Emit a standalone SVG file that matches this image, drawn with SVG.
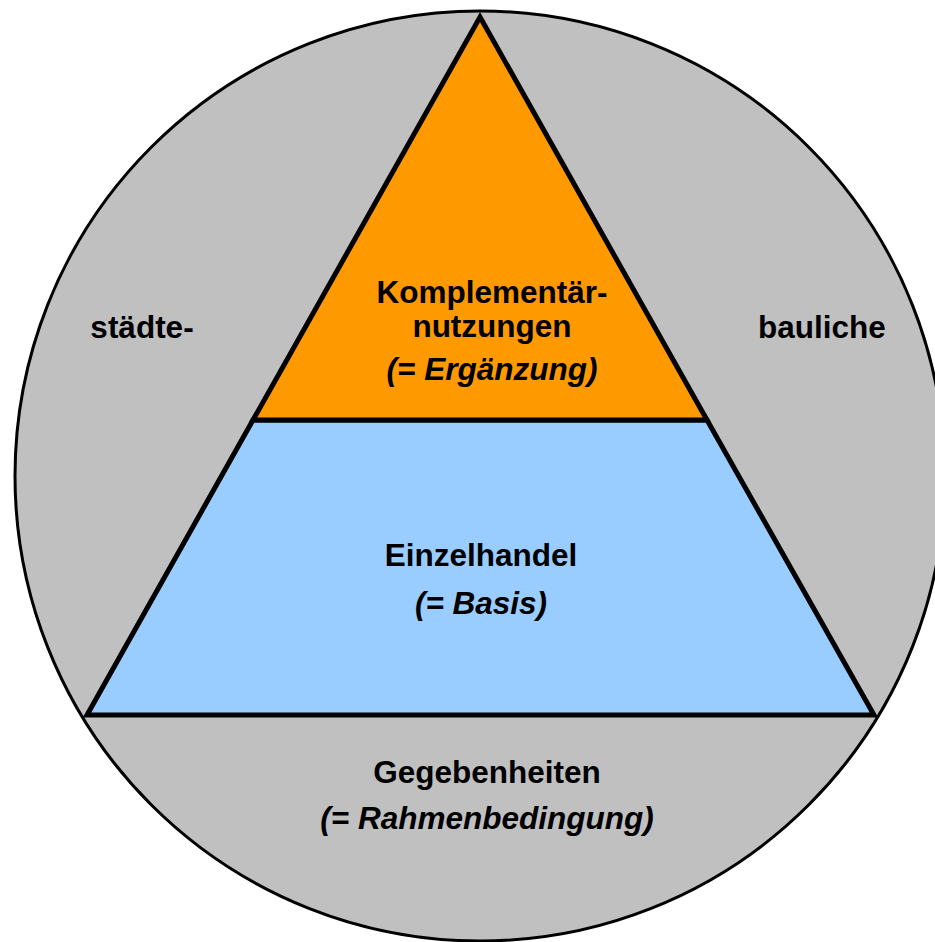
<svg xmlns="http://www.w3.org/2000/svg" width="935" height="942" viewBox="0 0 935 942">
<style>
.t{font-family:"Liberation Sans",Arial,sans-serif;font-size:31.5px;font-weight:bold;fill:#000;text-anchor:middle}
.i{font-style:italic}
.s{stroke:#000;stroke-width:5;stroke-linejoin:miter}
</style>
<rect width="935" height="942" fill="#fff"/>
<g id="circle">
<circle cx="480" cy="476" r="465" fill="#C0C0C0" stroke="#000" stroke-width="3"/>
<text class="t" x="142" y="338">städte-</text>
<text class="t" x="822" y="338">bauliche</text>
<text class="t" x="487" y="783">Gegebenheiten</text>
<text class="t i" x="487" y="829">(= Rahmenbedingung)</text>
</g>
<g id="base">
<polygon class="s" points="253,420 707,420 874,715 87,715" fill="#99CCFF"/>
<text class="t" x="481" y="566">Einzelhandel</text>
<text class="t i" x="481" y="614">(= Basis)</text>
</g>
<g id="top">
<polygon class="s" points="480,17 707,420 253,420" fill="#FF9900"/>
<text class="t" x="492" y="303">Komplementär-</text>
<text class="t" x="492" y="337">nutzungen</text>
<text class="t i" x="492" y="380">(= Ergänzung)</text>
</g>
</svg>
